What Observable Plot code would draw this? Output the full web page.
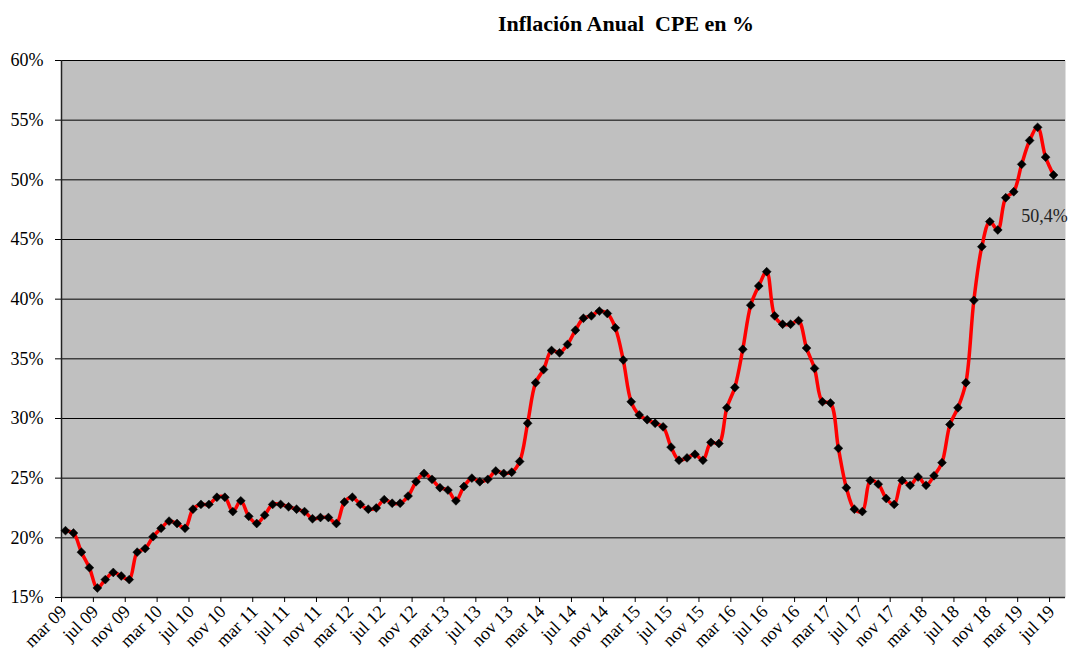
<!DOCTYPE html>
<html>
<head>
<meta charset="utf-8">
<script src="https://cdn.jsdelivr.net/npm/d3@7"></script>
<script src="https://cdn.jsdelivr.net/npm/@observablehq/plot@0.6"></script>
<style>
  html, body { margin: 0; padding: 0; background: #fff; }
  #wrap { position: relative; width: 1068px; height: 656px; }
  #title { position: absolute; left: 626px; top: 11px; transform: translateX(-50%);
           font-family: "Liberation Serif", "Times New Roman", serif; font-weight: bold; font-size: 22px; white-space: pre; color: #000; }
  #chart { position: absolute; left: 0; top: 40px; }
</style>
</head>
<body>
<div id="wrap">
  <div id="title">Inflación Anual  CPE en %</div>
  <div id="chart"></div>
</div>
<script>
// Monthly annual inflation (%), mar 09 .. jul 19
const values = [
  20.6, 20.4, 18.8, 17.5, 15.8, 16.5, 17.1, 16.8, 16.5, 18.8,
  19.1, 20.1, 20.8, 21.4, 21.2, 20.8, 22.4, 22.8, 22.8, 23.4,
  23.4, 22.2, 23.1, 21.8, 21.2, 21.9, 22.8, 22.8, 22.6, 22.4,
  22.2, 21.6, 21.7, 21.7, 21.2, 23.0, 23.4, 22.8, 22.4, 22.5,
  23.2, 22.9, 22.9, 23.5, 24.7, 25.4, 24.9, 24.2, 24.0, 23.1,
  24.3, 25.0, 24.7, 24.9, 25.6, 25.4, 25.5, 26.4, 29.6, 33.0,
  34.1, 35.7, 35.5, 36.2, 37.4, 38.4, 38.6, 39.0, 38.8, 37.6,
  34.9, 31.4, 30.3, 29.9, 29.6, 29.3, 27.6, 26.5, 26.7, 27.0,
  26.5, 28.0, 27.9, 30.9, 32.6, 35.8, 39.5, 41.1, 42.3, 38.6,
  37.9, 37.9, 38.2, 35.9, 34.2, 31.4, 31.3, 27.5, 24.2, 22.4,
  22.2, 24.8, 24.5, 23.3, 22.8, 24.8, 24.4, 25.1, 24.4, 25.2,
  26.3, 29.5, 30.9, 33.0, 39.9, 44.4, 46.5, 45.8, 48.5, 49.0,
  51.3, 53.3, 54.4, 51.9, 50.4
];
// Category-axis labels, every 4 months
const tickLabels = [
  "mar 09","jul 09","nov 09","mar 10","jul 10","nov 10","mar 11","jul 11","nov 11",
  "mar 12","jul 12","nov 12","mar 13","jul 13","nov 13","mar 14","jul 14","nov 14",
  "mar 15","jul 15","nov 15","mar 16","jul 16","nov 16","mar 17","jul 17","nov 17",
  "mar 18","jul 18","nov 18","mar 19","jul 19"
];
const yTicks = [15, 20, 25, 30, 35, 40, 45, 50, 55, 60];
const lastLabel = "50,4%";
const nCategories = 126;

const data = values.map((v, i) => ({x: i + 0.5, v}));
const tickPos = tickLabels.map((_, k) => 4 * k);
const labelPos = tickLabels.map((_, k) => 4 * k + 0.5);
const last = data[data.length - 1];

const chart = Plot.plot({
  width: 1068,
  height: 616,
  marginTop: 20,
  marginBottom: 59,
  marginLeft: 61,
  marginRight: 3,
  style: {fontFamily: "'Liberation Serif', 'Times New Roman', serif", fontSize: "18px", color: "#000", background: "transparent"},
  x: {type: "linear", domain: [0, nCategories]},
  y: {domain: [15, 60]},
  marks: [
    Plot.frame({fill: "#c0c0c0", stroke: null}),
    Plot.gridY(yTicks, {stroke: "#000", strokeOpacity: 1, strokeWidth: 1}),
    Plot.ruleX([0], {stroke: "#222", strokeWidth: 1.5}),
    Plot.ruleY([15], {stroke: "#222", strokeWidth: 1.5}),
    Plot.axisY(yTicks, {tickSize: 6, tickPadding: 12, tickFormat: d => d + "%", label: null, stroke: "#000", fill: "#000", fontSize: 18}),
    Plot.axisX(tickPos, {tickSize: 5, tickFormat: () => "", label: null, stroke: "#000"}),
    Plot.axisX(labelPos, {tickSize: 0, tickPadding: 11, dx: -2, tickRotate: -45, label: null, fill: "#000", fontSize: 18,
      tickFormat: d => tickLabels[Math.round((d - 0.5) / 4)]}),
    Plot.line(data, {x: "x", y: "v", stroke: "#ff0000", strokeWidth: 3.5, curve: "catmull-rom"}),
    Plot.dot(data, {x: "x", y: "v", symbol: "diamond2", r: 4, fill: "#000", stroke: "#000", strokeWidth: 0.5}),
    Plot.text([last], {x: "x", y: "v", text: () => lastLabel, dx: -9, dy: 41, fill: "#222", fontSize: 18})
  ]
});
document.getElementById("chart").appendChild(chart);
</script>
</body>
</html>
